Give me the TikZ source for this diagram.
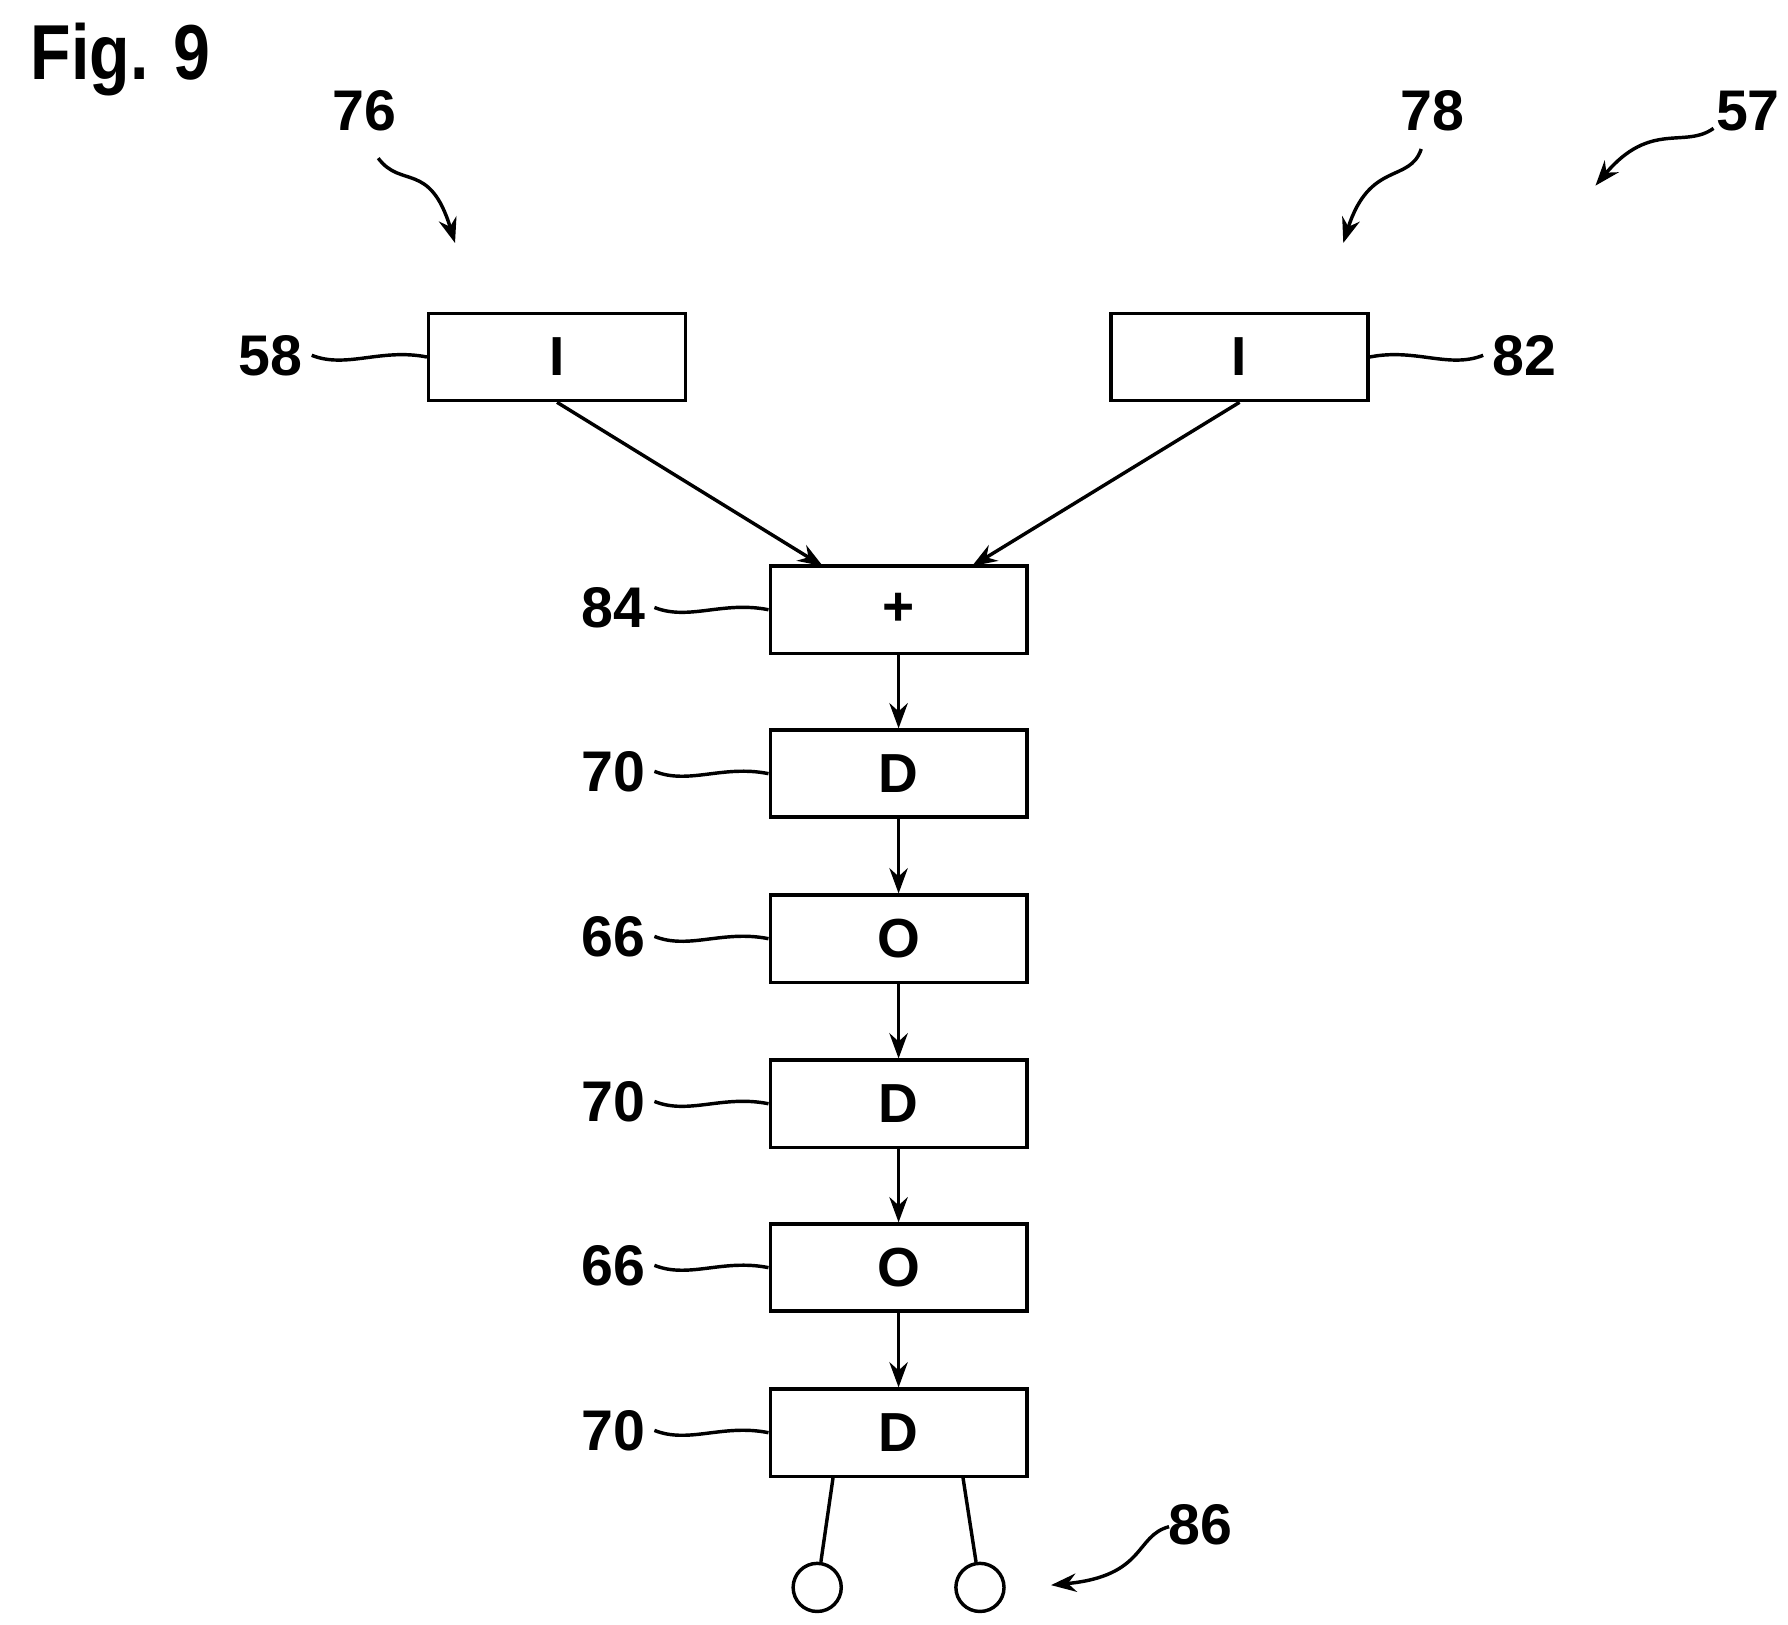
\documentclass[tikz,border=0pt]{standalone}
\usepackage{fontspec}
\setmainfont{Liberation Sans}
\usetikzlibrary{arrows.meta}
\begin{document}
\begin{tikzpicture}[x=0.5pt,y=-0.5pt,line width=1.5pt,
 box/.style={draw,minimum width=112pt,minimum height=38pt,inner sep=0pt,font=\fontsize{24}{24}\selectfont\bfseries},
 lab/.style={font=\fontsize{25}{25}\selectfont\bfseries},
 arr/.style={-{Stealth[length=11pt,width=8pt]}}]
\useasboundingbox (0,0) rectangle (1560,1417);
\node[font=\fontsize{34}{34}\selectfont\bfseries,xscale=0.85] (fig) at (105,52) {Fig. 9};
\node[box] (i1) at (486,311.5) {I};
\node[box] (i2) at (1081.5,311.5) {I};
\node[box] (p) at (784,532) {+};
\node[box] (d1) at (784,675) {D};
\node[box] (o1) at (784,819) {O};
\node[box] (d2) at (784,963) {D};
\node[box] (o2) at (784,1106) {O};
\node[box] (d3) at (784,1250) {D};
\draw[arr] (i1.south) -- (718,494);
\draw[arr] (i2.south) -- (848,494);
\draw[arr] (p) -- (d1); \draw[arr] (d1) -- (o1); \draw[arr] (o1) -- (d2);
\draw[arr] (d2) -- (o2); \draw[arr] (o2) -- (d3);
\node[draw,circle,minimum size=21pt,inner sep=0pt] (c1) at (713,1385) {};
\node[draw,circle,minimum size=21pt,inner sep=0pt] (c2) at (855,1385) {};
\draw (727,1288) -- (c1); \draw (840,1288) -- (c2);
\node[lab] (l58) at (236,310) {58};
\draw (l58.east) .. controls +(30,12) and +(-40,-8) .. (i1.west);
\node[lab] (l82) at (1330,310) {82};
\draw (i2.east) .. controls +(40,-8) and +(-30,12) .. (l82.west);
\foreach \n/\t/\y in {p/84/530,d1/70/673,o1/66/817,d2/70/961,o2/66/1104,d3/70/1248}{
 \node[lab] (l\n) at (535,\y) {\t};
 \draw (l\n.east) .. controls +(30,12) and +(-40,-8) .. (\n.west);
}
\node[lab] (l76) at (318,97) {76};
\coordinate (t76) at (397,212);
\draw[arr] (330,138) .. controls (350,165) and (375,140) .. (t76);
\node[lab] (l78) at (1250,97) {78};
\coordinate (t78) at (1172,212);
\draw[arr] (1240,130) .. controls (1230,160) and (1195,140) .. (t78);
\node[lab] (l57) at (1525,97) {57};
\coordinate (t57) at (1392,162);
\draw[arr] (1495,112) .. controls (1470,130) and (1440,105) .. (t57);
\node[lab] (l86) at (1047,1330) {86};
\coordinate (t86) at (917,1383);
\draw[arr] (1020,1332) .. controls (990,1340) and (1000,1375) .. (t86);
\end{tikzpicture}
\end{document}
